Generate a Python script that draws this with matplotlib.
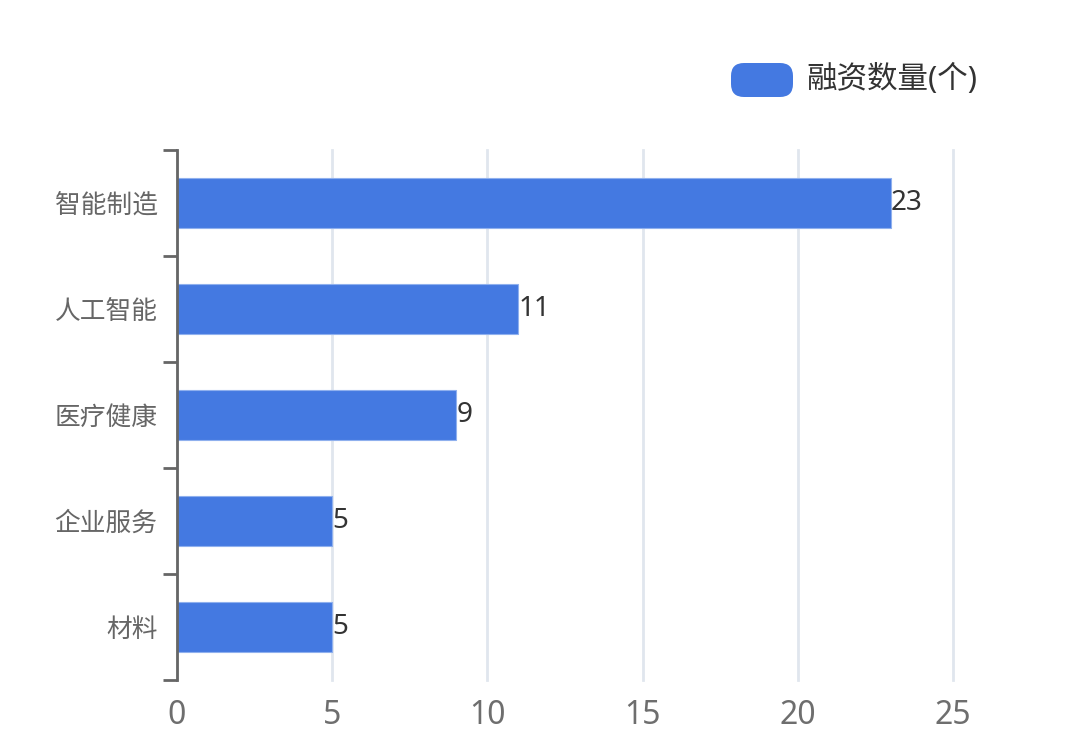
import numpy as np
import matplotlib
matplotlib.use('Agg')
from matplotlib import pyplot as plt
from matplotlib.patches import FancyBboxPatch

plt.rcParams['font.family'] = ['Noto Sans CJK SC', 'DejaVu Sans']
num_font = ['Noto Sans', 'DejaVu Sans']

# data
categories = ['智能制造', '人工智能', '医疗健康', '企业服务', '材料']
counts = [23, 11, 9, 5, 5]
series_name = '融资数量(个)'
x_ticks = [0, 5, 10, 15, 20, 25]

bar_color = '#4479e1'

fig = plt.figure(figsize=(10.8, 7.53), dpi=100)
ax = fig.add_axes([177 / 1080, 73 / 753, 776 / 1080, 530 / 753])

y = np.arange(len(categories))
bars = ax.barh(y, counts, height=0.47, color=bar_color,
               edgecolor='#8fb0ee', linewidth=0.8, zorder=3)

# value labels at bar ends
for yi, v in zip(y, counts):
    ax.text(v, yi, str(v), ha='left', va='center', fontsize=20,
            color='#333333', zorder=4, family=num_font)

ax.set_xlim(0, 25)
ax.set_ylim(len(categories) - 0.5, -0.5)
ax.set_xticks(x_ticks)
ax.set_xticklabels([str(t) for t in x_ticks], fontsize=23, color='#6e6e6e',
                   family=num_font)
ax.tick_params(axis='x', length=0, pad=14)

ax.set_yticks(y)
ax.set_yticklabels(categories, fontsize=18.5, color='#666666')
ax.tick_params(axis='y', which='major', length=0, pad=14)
ax.set_yticks(np.arange(-0.5, len(categories), 1), minor=True)
ax.tick_params(axis='y', which='minor', length=10, width=2, color='#666666')

# vertical grid
ax.grid(axis='x', color='#e0e6ee', linewidth=2, zorder=0)
for gl in ax.get_xgridlines():
    gl.set_clip_on(False)
ax.set_axisbelow(True)

for s in ['top', 'right', 'bottom']:
    ax.spines[s].set_visible(False)
ax.spines['left'].set_color('#666666')
ax.spines['left'].set_linewidth(2)
ax.spines['left'].set_zorder(5)

# legend
box = FancyBboxPatch((731 / 1080, 1 - 97 / 753), 62 / 1080, 34 / 753,
                     boxstyle='round,pad=0,rounding_size=0.012',
                     transform=fig.transFigure, facecolor=bar_color,
                     edgecolor='none', mutation_aspect=1080 / 753)
fig.patches.append(box)
fig.text(806 / 1080, 1 - 79 / 753, series_name, fontsize=22,
         color='#333333', ha='left', va='center',
         family=['Noto Sans', 'Noto Sans CJK SC'])

fig.savefig('out.png', dpi=100, facecolor='white')
